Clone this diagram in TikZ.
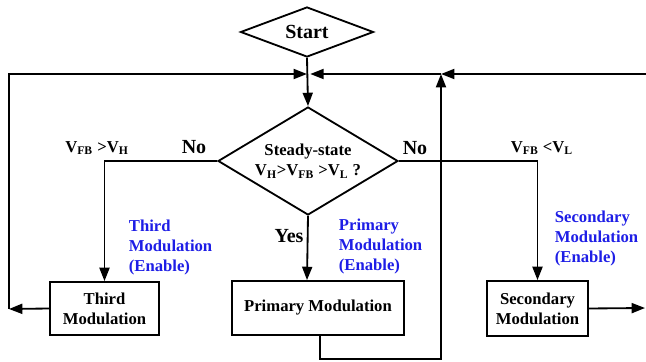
\documentclass[tikz,border=0pt]{standalone}
\usepackage{fontspec}
\setmainfont{Liberation Serif}
\usetikzlibrary{positioning, arrows.meta, shapes.geometric}
\definecolor{enableblue}{HTML}{1E1EE6}
\newcommand{\volt}[1]{V\textsubscript{#1}}

\begin{document}
\begin{tikzpicture}[x=0.6pt, y=-0.6pt, line width=1.1pt,
        font=\bfseries,
        decision/.style={diamond, draw, inner sep=0pt, align=center},
        modbox/.style={rectangle, draw, align=center, inner sep=0pt},
        enable/.style={text=enableblue, align=left, anchor=west, inner sep=0pt},
        flow/.style={-{Triangle[length=8pt, width=6pt]}}]
      \useasboundingbox (0,0) rectangle (646,362);
      % Nodes
      \node[decision, minimum width=79.8pt, minimum height=30pt, aspect=2.66, font=\large\bfseries] (start) at (307,32) {Start};
      \node[decision, minimum width=108pt, minimum height=64.8pt, aspect=1.67] (steady) at (308,161)
        {Steady-state\\\volt{H}>\volt{FB} >\volt{L} ?};
      \node[modbox, minimum width=65.4pt, minimum height=31.8pt] (third) at (104.5,308.5) {Third\\Modulation};
      \node[modbox, minimum width=103.2pt, minimum height=32.4pt] (primary) at (318,308) {Primary Modulation};
      \node[modbox, minimum width=60.6pt, minimum height=33pt] (secondary) at (537.5,308.5) {Secondary\\Modulation};

      % Points on the loops
      \coordinate (join) at (307,74);
      \coordinate (ret) at (441,74);
      \coordinate (lcorner) at (9,309);
      \coordinate (rcorner) at (645,308);
      \coordinate (rtop) at (646,74);
      \coordinate (pbot) at (320,359);

      % Edges
      \draw[flow] (start.south) -- (steady.north);
      \draw[flow] (steady.west) -| (third.north);
      \draw[flow] (steady.east) -| (secondary.north);
      \draw[flow] (steady.south) -- ([xshift=-11*0.6pt]primary.north);
      \draw[flow] (third.west) -- (lcorner);
      \draw[flow] (lcorner) |- (join);
      \draw[flow] (secondary.east) -- (rcorner);
      \draw[flow] (rtop) -- (ret);
      \draw[flow] (ret) -- ([xshift=2pt]join);
      \draw[flow] (primary.south -| pbot) -- (pbot) -| (ret);

      % Labels
      \node[font=\large\bfseries] (nol) at (194,147) {No};
      \node[font=\large\bfseries] (nor) at (415,148) {No};
      \node[font=\large\bfseries] (yes) at (289,236) {Yes};
      \node (condh) at (97,148) {\volt{FB} >\volt{H}};
      \node (condl) at (542,148) {\volt{FB} <\volt{L}};
      \node[enable] (thirdon) at (128,247.5) {Third\\Modulation\\(Enable)};
      \node[enable] (primaryon) at (338,246.5) {Primary\\Modulation\\(Enable)};
      \node[enable] (secondaryon) at (554,238.5) {Secondary\\Modulation\\(Enable)};
    \end{tikzpicture}
\end{document}
